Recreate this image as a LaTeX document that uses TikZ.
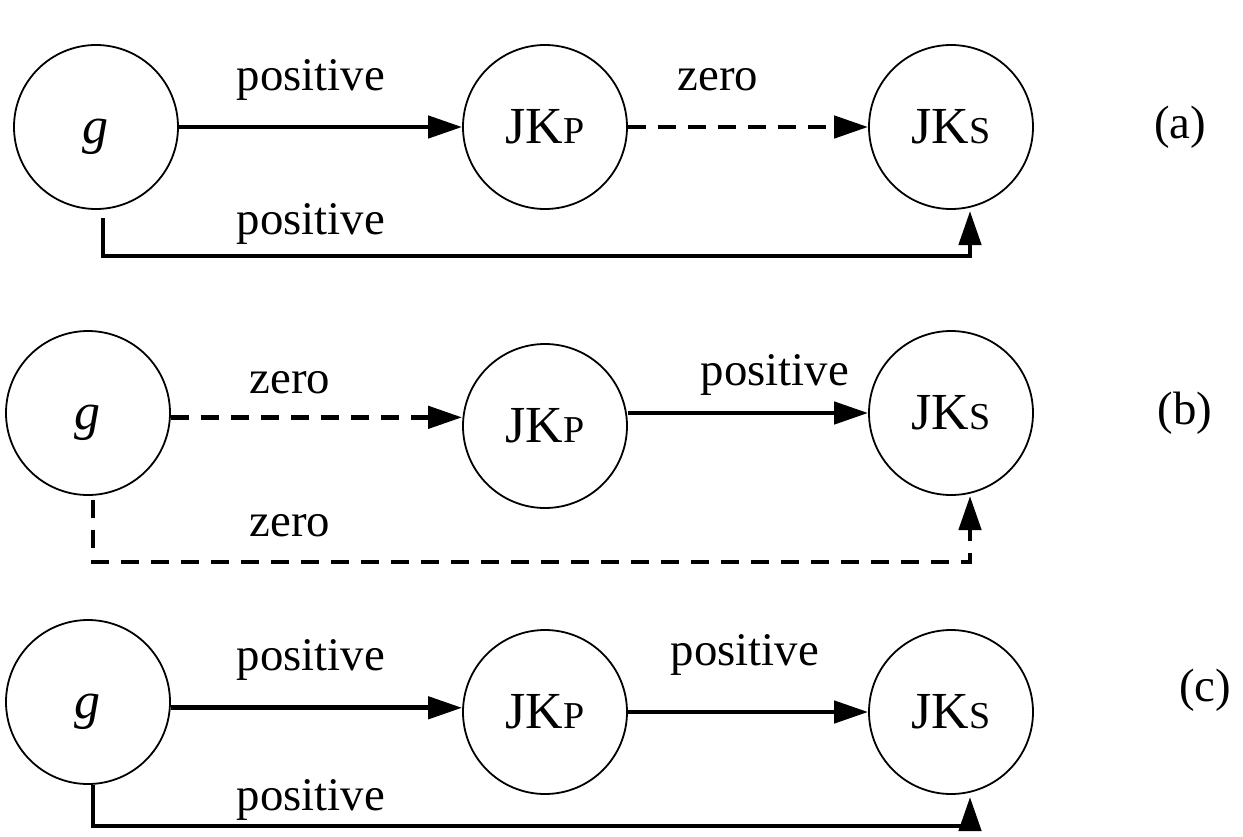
\documentclass[tikz,border=0pt]{standalone}
\usepackage{fontspec}
\setmainfont{Liberation Serif}
\usetikzlibrary{arrows.meta}
\newcommand\JKsc[1]{JK{\fontsize{19}{22}\selectfont #1}}
\begin{document}
\begin{tikzpicture}[x=0.5pt,y=-0.5pt,
  st/.style={draw, circle, line width=0.9pt, minimum size=82pt, inner sep=0pt,
    text height=19pt, text depth=3pt, font=\fontsize{26}{30}\selectfont},
  arr/.style={line width=2.3pt, -{Triangle[length=17pt,width=11pt]}},
  dsh/.style={dash pattern=on 9pt off 6pt},
  lbl/.style={font=\fontsize{23.4}{28}\selectfont, inner sep=0pt},
]
\useasboundingbox (0,0) rectangle (1243,836);
% row (a)
\node[st] (ga) at (96,127) {\textit{g}};
\node[st] (pa) at (545,127) {\JKsc{P}};
\node[st] (sa) at (951,127) {\JKsc{S}};
\draw[arr] (ga) -- (pa);
\draw[arr,dsh] (pa) -- (sa);
\node[lbl] (la1) at (311,80) {positive};
\node[lbl] (la2) at (718,80) {zero};
\node[lbl] (la3) at (311,224) {positive};
\node[lbl] (la4) at (1180,127) {(a)};
\coordinate (a0) at (103,218);
\coordinate (a1) at (970,256);
\coordinate (a2) at (970,211);
\draw[arr] (a0) |- (a1) -- (a2);
% row (b)
\node[st] (gb) at (88,413) {\textit{g}};
\node[st] (pb) at (545,426) {\JKsc{P}};
\node[st] (sb) at (951,413) {\JKsc{S}};
\draw[arr,dsh] (gb.-3.5) -- (gb.-3.5 -| pb.west);
\draw[arr] (sb.west -| pb.east) -- (sb.west);
\node[lbl] (lb1) at (290,383) {zero};
\node[lbl] (lb2) at (775,375) {positive};
\node[lbl] (lb3) at (290,526) {zero};
\node[lbl] (lb4) at (1185,413) {(b)};
\coordinate (b0) at (93,500);
\coordinate (b1) at (970,562);
\coordinate (b2) at (970,496);
\draw[arr,dsh] (b0) |- (b1) -- (b2);
% row (c)
\node[st] (gc) at (88,702) {\textit{g}};
\node[st] (pc) at (545,712) {\JKsc{P}};
\node[st] (sc) at (951,712) {\JKsc{S}};
\draw[arr] (gc.-4) -- (gc.-4 -| pc.west);
\draw[arr] (pc) -- (sc);
\node[lbl] (lc1) at (311,660) {positive};
\node[lbl] (lc2) at (745,655) {positive};
\node[lbl] (lc3) at (311,800) {positive};
\node[lbl] (lc4) at (1205,690) {(c)};
\coordinate (c0) at (93,782);
\coordinate (c1) at (970,826);
\coordinate (c2) at (970,797);
\draw[arr] (gc.south -| c0) |- (c1) -- (c2);
\end{tikzpicture}
\end{document}
